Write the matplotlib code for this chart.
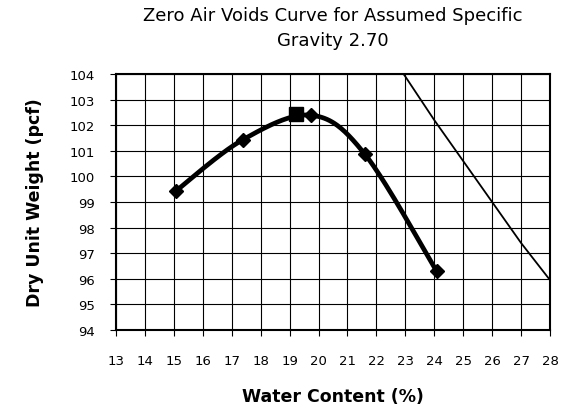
import numpy as np
import matplotlib
matplotlib.use("Agg")
import matplotlib.pyplot as plt

# Compaction test data
water_content = [15.06, 17.38, 19.75, 21.6, 24.08]
dry_unit_weight = [99.42, 101.43, 102.39, 100.87, 96.3]

# Maximum dry unit weight point
max_w = [19.23]
max_gamma = [102.45]

# Zero air voids curve (Gs = 2.70)
zav_w = [22.0, 23.0, 24.0, 25.0, 26.0, 27.0, 28.0]
zav_gamma = [105.5, 103.9, 102.2, 100.6, 99.0, 97.4, 95.95]

x_ticks = list(range(13, 29))
y_ticks = list(range(94, 105))


def smooth_bezier(ax, xs, ys, n=40):
    """Excel-style smoothed line through points (drawn in display space)."""
    pts = ax.transData.transform(np.column_stack([xs, ys]))
    P = np.vstack([pts[0], pts, pts[-1]])
    t = np.linspace(0, 1, n)[:, None]
    out = []
    for i in range(1, len(P) - 2):
        p0, p1, p2, p3 = P[i - 1], P[i], P[i + 1], P[i + 2]
        c1 = p1 + (p2 - p0) / 6.0
        c2 = p2 - (p3 - p1) / 6.0
        seg = ((1 - t) ** 3) * p1 + 3 * ((1 - t) ** 2) * t * c1 + 3 * (1 - t) * t ** 2 * c2 + t ** 3 * p2
        out.append(seg)
    out = np.vstack(out)
    d = ax.transData.inverted().transform(out)
    return d[:, 0], d[:, 1]


fig = plt.figure(figsize=(5.71, 4.10), dpi=100)
ax = fig.add_axes([116 / 571, 1 - 331 / 410, 434 / 571, 256 / 410])
ax.set_xlim(13, 28)
ax.set_ylim(94, 104)

sx, sy = smooth_bezier(ax, water_content, dry_unit_weight)
ax.plot(sx, sy, color="black", lw=3.4, zorder=3, solid_capstyle="round")
ax.plot(water_content, dry_unit_weight, linestyle="none", marker="D", ms=7.5,
        color="black", zorder=4)
ax.plot(max_w, max_gamma, linestyle="none", marker="s", ms=10, color="black", zorder=5)

ax.plot(zav_w, zav_gamma, color="black", lw=1.3, zorder=3)

ax.set_xticks(x_ticks)
ax.set_yticks(y_ticks)
ax.grid(True, color="black", lw=0.8)
ax.set_axisbelow(True)
for s in ax.spines.values():
    s.set_linewidth(1.5)
ax.tick_params(axis="x", direction="out", length=4, width=0.8, labelsize=9.5, pad=13)
ax.tick_params(axis="y", direction="out", length=4, width=0.8, labelsize=9.5, pad=11)

ax.set_xlabel("Water Content (%)", fontsize=12.5, fontweight="bold")
ax.xaxis.label.set_va("center")
ax.xaxis.set_label_coords(0.5, -(397 - 331) / 256)
ax.set_ylabel("Dry Unit Weight (pcf)", fontsize=12.5, fontweight="bold")
ax.yaxis.label.set_va("center")
ax.yaxis.set_label_coords(-(116 - 35) / 434, 0.5)

fig.text(333 / 571, 1 - 28.5 / 410, "Zero Air Voids Curve for Assumed Specific\nGravity 2.70",
         ha="center", va="center", fontsize=13, linespacing=1.45)

fig.savefig("out.png", dpi=100)
